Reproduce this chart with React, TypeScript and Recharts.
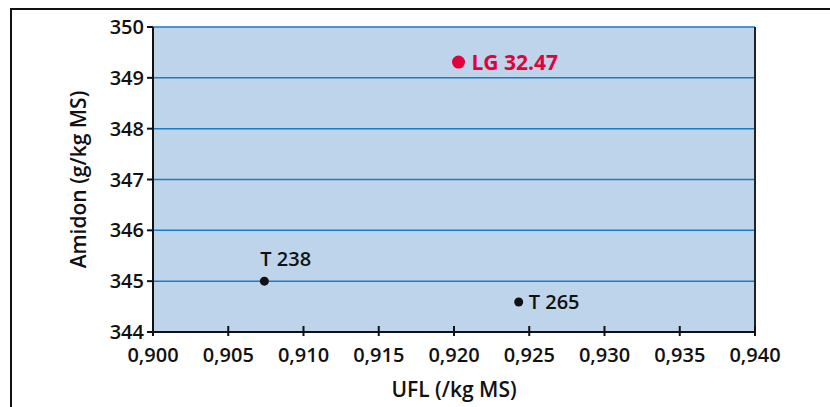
import React from "react";
import { ScatterChart, Scatter, XAxis, YAxis, CartesianGrid, ReferenceLine } from "recharts";

const names = ["LG 32.47", "T 238", "T 265"];
const ufl = [0.9203, 0.9074, 0.9243];
const amidon = [349.31, 345.0, 344.59];
const xTicks = [0.9, 0.905, 0.91, 0.915, 0.92, 0.925, 0.93, 0.935, 0.94];
const yTicks = [344, 345, 346, 347, 348, 349, 350];

const FONT = "'Open Sans', sans-serif";

const points = names.map((name, i) => ({ name, ufl: ufl[i], amidon: amidon[i] }));

// label placement per point
const labelStyle: Record<string, { dx: number; dy: number; anchor: string; color: string; r: number; size: number; weight: number }> = {
  "LG 32.47": { dx: 13, dy: 8, anchor: "start", color: "#e2003b", r: 6.5, size: 21, weight: 700 },
  "T 238": { dx: -4, dy: -15, anchor: "start", color: "#111", r: 4.5, size: 20, weight: 600 },
  "T 265": { dx: 10, dy: 7, anchor: "start", color: "#111", r: 4.5, size: 20, weight: 600 },
};

const PointShape = (props: any) => {
  const { cx, cy, payload } = props;
  const s = labelStyle[payload.name];
  return (
    <g>
      <circle cx={cx} cy={cy} r={s.r} fill={s.color} />
      <text x={cx + s.dx} y={cy + s.dy} textAnchor={s.anchor} fill={s.color} fontSize={s.size} fontWeight={s.weight} fontFamily={FONT}>
        {payload.name}
      </text>
    </g>
  );
};

const XTick = (props: any) => {
  const { x, y, payload } = props;
  return (
    <g>
      <line x1={x} x2={x} y1={y - 6} y2={y + 4} stroke="#111" strokeWidth={2} />
      <text x={x} y={y + 30} textAnchor="middle" fontSize={20} fontWeight={600} fontFamily={FONT} fill="#111">
        {payload.value.toFixed(3).replace(".", ",")}
      </text>
    </g>
  );
};

export default function App() {
  return (
    <div style={{ position: "absolute", left: 0, top: 0, width: 830, height: 407, background: "#fff", overflow: "hidden" }}>
      <div style={{ position: "absolute", left: 10, top: 8, width: 830, height: 407, borderTop: "2px solid #111", borderLeft: "2px solid #111" }} />
      <div style={{ position: "absolute", left: 0, top: 0 }}>
        <ScatterChart width={830} height={407} margin={{ top: 27, right: 75, bottom: 25, left: 0 }}>
          <CartesianGrid horizontal vertical={false} fill="#bed4ea" stroke="#1b7bc8" strokeWidth={1.5} horizontalValues={yTicks} />
          <XAxis
            type="number"
            dataKey="ufl"
            domain={[0.9, 0.94]}
            ticks={xTicks}
            height={50}
            tickSize={0}
            tickMargin={0}
            tickLine={false}
            axisLine={{ stroke: "#111", strokeWidth: 2 }}
            tick={<XTick />}
            allowDataOverflow
            label={{ value: "UFL (/kg MS)", position: "insideBottom", offset: -15, fontSize: 21, fontWeight: 600, fontFamily: FONT, fill: "#111" }}
          />
          <YAxis
            type="number"
            dataKey="amidon"
            domain={[344, 350]}
            ticks={yTicks}
            width={153}
            tickSize={6}
            tickMargin={3}
            tickLine={{ stroke: "#111", strokeWidth: 2 }}
            axisLine={{ stroke: "#111", strokeWidth: 2 }}
            tick={{ fontSize: 20, fontWeight: 600, fontFamily: FONT, fill: "#111" }}
            allowDataOverflow
            label={{ value: "Amidon (g/kg MS)", angle: -90, position: "insideLeft", offset: 79, fontSize: 21, fontWeight: 600, fontFamily: FONT, fill: "#111", style: { textAnchor: "middle" } }}
          />
          <ReferenceLine x={0.94} stroke="#222" strokeWidth={2} />
          <Scatter data={points} shape={<PointShape />} isAnimationActive={false} />
        </ScatterChart>
      </div>
    </div>
  );
}
